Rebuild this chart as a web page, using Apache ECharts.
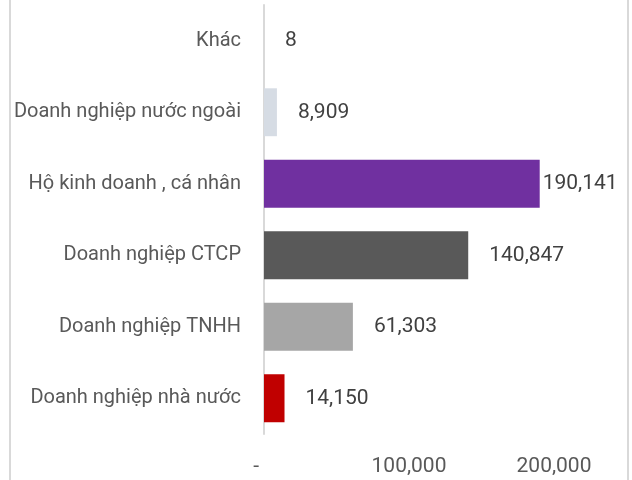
<!DOCTYPE html>
<html>
<head>
<meta charset="utf-8">
<script src="https://cdn.jsdelivr.net/npm/echarts@6/dist/echarts.min.js"></script>
<style>
  html, body { margin: 0; padding: 0; background: #fff; }
  #chart { width: 632px; height: 480px; }
</style>
</head>
<body>
<div id="chart"></div>
<script>
// categories listed bottom to top (ECharts category y axis starts at bottom)
const categories = [
  'Doanh nghiệp nhà nước',
  'Doanh nghiệp TNHH',
  'Doanh nghiệp CTCP',
  'Hộ kinh doanh , cá nhân',
  'Doanh nghiệp nước ngoài',
  'Khác'
];
const values = [14150, 61303, 140847, 190141, 8909, 8];
const xTicks = [0, 100000, 200000];

// styles per bar
const barColors = ['#c00000', '#a6a6a6', '#595959', '#7030a0', '#d6dce4', '#d6dce4'];
const labelGaps = [21, 21, 21, 3, 21, 21];

const textColor = '#595959';
const font = 'Roboto, "Noto Sans", sans-serif';

const myChart = echarts.init(document.getElementById('chart'));

const option = {
  animation: false,
  grid: {
    left: 264,
    right: 78,
    top: 5,
    bottom: 46,
    containLabel: false
  },
  graphic: [
    { type: 'rect', shape: { x: 9, y: 0, width: 2, height: 480 }, style: { fill: '#d9d9d9' } },
    { type: 'rect', shape: { x: 627, y: 0, width: 2, height: 480 }, style: { fill: '#d9d9d9' } }
  ],
  xAxis: {
    type: 'value',
    min: xTicks[0],
    max: xTicks[xTicks.length - 1],
    interval: xTicks[1] - xTicks[0],
    splitLine: { show: false },
    axisLine: { show: false },
    axisTick: { show: false },
    axisLabel: {
      color: textColor,
      fontFamily: font,
      fontSize: 21,
      margin: 22,
      formatter: (v) => v === 0 ? '-   ' : v.toLocaleString('en-US')
    }
  },
  yAxis: {
    type: 'category',
    data: categories,
    axisLine: { show: true, lineStyle: { color: '#d9d9d9', width: 2 } },
    axisTick: { show: false },
    axisLabel: {
      color: textColor,
      fontFamily: font,
      fontSize: 20,
      margin: 23
    }
  },
  series: [{
    type: 'bar',
    barCategoryGap: '33%',
    data: values.map((v, i) => ({
      value: v,
      itemStyle: { color: barColors[i] },
      label: { distance: labelGaps[i] }
    })),
    label: {
      show: true,
      position: 'right',
      color: '#404040',
      fontFamily: font,
      fontSize: 21,
      formatter: (p) => p.value.toLocaleString('en-US')
    }
  }]
};

myChart.setOption(option);
</script>
</body>
</html>
